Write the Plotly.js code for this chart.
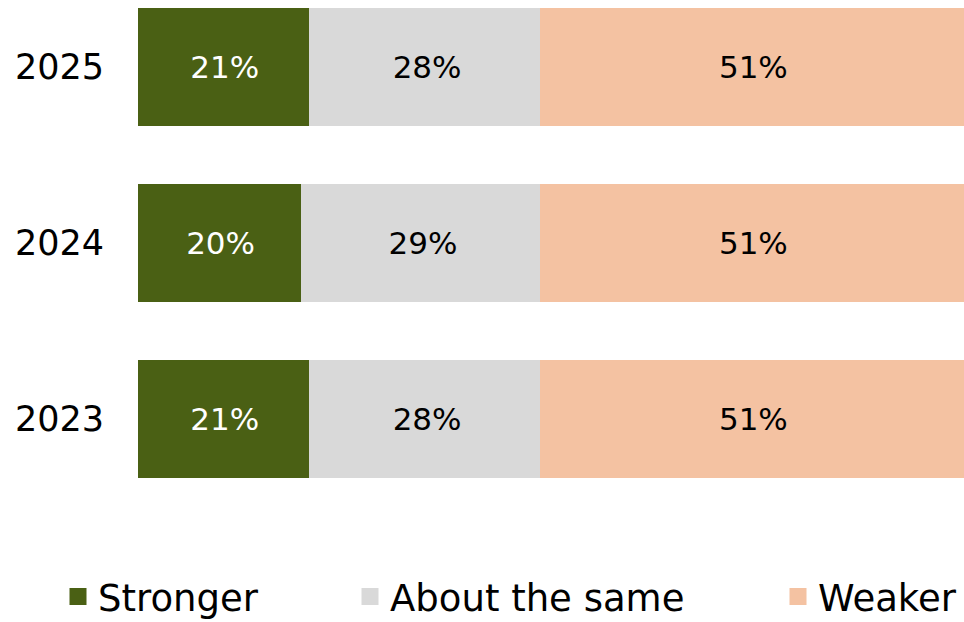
<!DOCTYPE html>
<html>
<head>
<meta charset="utf-8">
<script src="https://cdn.plot.ly/plotly-3.0.1.min.js"></script>
<style>html,body{margin:0;padding:0;background:#fff;}#chart{width:964px;height:622px;}</style>
</head>
<body>
<div id="chart"></div>
<script>
const years = ['2023', '2024', '2025'];
const stronger = [21, 20, 21];
const aboutSame = [28, 29, 28];
const weaker = [51, 51, 51];
const seriesNames = ['Stronger', 'About the same', 'Weaker'];

const FONT = 'DejaVu Sans, sans-serif';
const colors = ['#4A6014', '#D9D9D9', '#F4C2A2'];
const textColors = ['#FFFFFF', '#000000', '#000000'];
const legendIds = ['legend', 'legend2', 'legend3'];
const series = [stronger, aboutSame, weaker];

const traces = series.map((vals, i) => ({
  type: 'bar',
  orientation: 'h',
  name: seriesNames[i],
  y: years,
  x: vals,
  text: vals.map(v => v + '%'),
  textposition: 'inside',
  insidetextanchor: 'middle',
  textangle: 0,
  constraintext: 'none',
  textfont: {family: FONT, size: 31, color: textColors[i]},
  marker: {color: colors[i], line: {width: 5, color: colors[i]}},
  legend: legendIds[i],
  hoverinfo: 'skip'
}));

const legendBase = {
  orientation: 'h',
  yanchor: 'middle',
  xanchor: 'left',
  y: -0.194,
  font: {family: FONT, size: 37, color: '#000'},
  bgcolor: 'rgba(0,0,0,0)',
  itemclick: false,
  itemdoubleclick: false
};

const layout = {
  width: 964,
  height: 622,
  margin: {l: 138, r: 0, t: 0, b: 122, autoexpand: false},
  barmode: 'stack',
  bargap: 0.358,
  paper_bgcolor: '#fff',
  plot_bgcolor: '#fff',
  showlegend: true,
  xaxis: {range: [0, 100], visible: false, fixedrange: true},
  yaxis: {
    type: 'category',
    categoryorder: 'array',
    categoryarray: years,
    range: [-0.46, 2.381],
    showgrid: false,
    zeroline: false,
    showline: false,
    ticks: 'outside',
    ticklen: 26,
    tickcolor: 'rgba(0,0,0,0)',
    tickfont: {family: FONT, size: 35, color: '#000'},
    fixedrange: true
  },
  legend: Object.assign({}, legendBase, {x: (58 - 138) / 826}),
  legend2: Object.assign({}, legendBase, {x: (350 - 138) / 826}),
  legend3: Object.assign({}, legendBase, {x: (778 - 138) / 826})
};

Plotly.newPlot('chart', traces, layout, {displayModeBar: false, staticPlot: true});
</script>
</body>
</html>
